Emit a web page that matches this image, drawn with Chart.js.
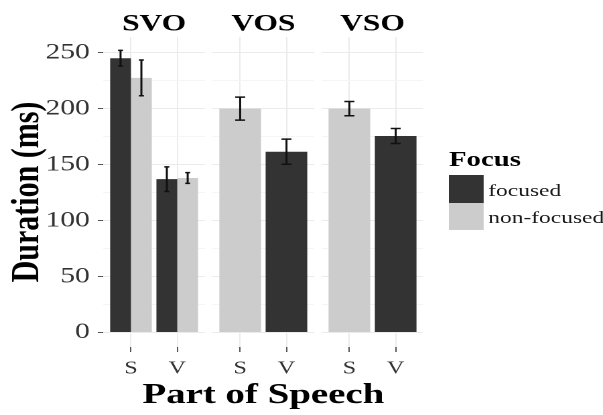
<!DOCTYPE html>
<html>
<head>
<meta charset="utf-8">
<script src="https://cdn.jsdelivr.net/npm/chart.js@4.4.1/dist/chart.umd.min.js"></script>
<style>
html,body{margin:0;padding:0;background:#fff;overflow:hidden;width:603px;height:415px;}
#wrap{position:absolute;left:0;top:0;width:450px;height:415px;transform:scaleX(1.34);transform-origin:0 0;}
#wrap canvas{position:absolute;top:0;left:0;}
.lg{position:absolute;font-family:"Liberation Serif","DejaVu Serif",serif;line-height:1;white-space:nowrap;color:#1a1a1a;}
.key{position:absolute;}
</style>
</head>
<body>
<div id="wrap">
  <canvas id="c1" width="153" height="415" style="width:153px;height:415px"></canvas>
  <canvas id="c2" width="393" height="415" style="width:393px;height:415px"></canvas>
  <canvas id="c3" width="316" height="415" style="width:316px;height:415px"></canvas>
  <div id="legend"></div>
</div>
<script>
// ---- data ----
const categories = ['S', 'V'];
const panelNames = ['SVO', 'VOS', 'VSO'];
const seriesNames = ['focused', 'non-focused'];
const seriesColors = ['#333333', '#cccccc'];
const yTicks = [0, 25, 50, 75, 100, 125, 150, 175, 200, 225, 250];
const yLabelStep = 50;

const svoFocused = [245, 137];
const svoNonFocused = [227.5, 138];
const vosFocused = [null, 161.5];
const vosNonFocused = [200, null];
const vsoFocused = [null, 175.5];
const vsoNonFocused = [200, null];

const svoFocusedErr = [7, 11];
const svoNonFocusedErr = [16, 4.8];
const vosFocusedErr = [null, 11.2];
const vosNonFocusedErr = [10.3, null];
const vsoFocusedErr = [null, 6.7];
const vsoNonFocusedErr = [6.4, null];

const yTitle = 'Duration (ms)';
const xTitle = 'Part of Speech';
const legendTitle = 'Focus';

// ---- setup ----
Chart.defaults.font.family = '"Liberation Serif", "DejaVu Serif", serif';
Chart.defaults.color = '#333';

const errorBarPlugin = {
  id: 'errorBars',
  afterDatasetsDraw(chart) {
    const ctx = chart.ctx, ys = chart.scales.y;
    ctx.save();
    ctx.strokeStyle = '#111';
    ctx.lineWidth = 1.5;
    chart.data.datasets.forEach((ds, i) => {
      const meta = chart.getDatasetMeta(i);
      meta.data.forEach((bar, j) => {
        const pt = ds.data[j];
        const e = ds.errorValues[j];
        if (pt.y == null || e == null) return;
        const yt = ys.getPixelForValue(pt.y + e);
        const yb = ys.getPixelForValue(pt.y - e);
        const hw = bar.width * 0.12;
        ctx.beginPath();
        ctx.moveTo(bar.x, yt); ctx.lineTo(bar.x, yb);
        ctx.moveTo(bar.x - hw, yt); ctx.lineTo(bar.x + hw, yt);
        ctx.moveTo(bar.x - hw, yb); ctx.lineTo(bar.x + hw, yb);
        ctx.stroke();
      });
    });
    ctx.restore();
  }
};

function toXY(vals) {
  return vals.map((v, i) => ({ x: i + 1, y: v }));
}

function makePanel(id, title, fVals, nVals, fErr, nErr, cfg) {
  const gridColor = c => (c.tick && c.tick.value % yLabelStep === 0) ? '#ebebeb' : '#f5f5f5';
  const scales = {
    x: {
      type: 'linear',
      min: 0.4, max: 2.6,
      offset: false,
      afterBuildTicks: s => { s.ticks = categories.map((c, i) => ({ value: i + 1 })); },
      afterFit: s => { s.height = 34; },
      ticks: {
        callback: v => categories[v - 1],
        font: { size: 18 },
        color: '#333',
        padding: 6,
        autoSkip: false,
        maxRotation: 0
      },
      grid: { offset: false, color: '#ebebeb', lineWidth: 1, drawTicks: true, tickLength: 5, tickColor: '#555', tickWidth: 1 },
      border: { display: false }
    },
    y: {
      type: 'linear',
      position: 'left',
      min: -13, max: 264,
      afterBuildTicks: s => { s.ticks = yTicks.map(v => ({ value: v })); },
      afterFit: s => { s.width = cfg.yWidth; },
      ticks: {
        display: cfg.yLabels,
        callback: v => (v % yLabelStep === 0 ? String(v) : ''),
        font: { size: 22 },
        color: '#333',
        padding: 6,
        autoSkip: false
      },
      grid: {
        color: gridColor,
        lineWidth: 1,
        drawTicks: cfg.yLabels,
        tickLength: 4,
        tickColor: c => (c.tick && c.tick.value % yLabelStep === 0) ? '#555' : 'rgba(0,0,0,0)',
        tickWidth: 1
      },
      border: { display: false },
      title: {
        display: cfg.yLabels,
        text: yTitle,
        color: '#000',
        font: { size: 30, weight: 'bold', lineHeight: 1 },
        padding: { top: 5.5, bottom: 0 }
      }
    }
  };
  if (cfg.rightWidth) {
    scales.yR = {
      type: 'linear',
      position: 'right',
      display: true,
      afterFit: s => { s.width = cfg.rightWidth; },
      ticks: { display: false },
      grid: { display: false, drawTicks: false },
      border: { display: false }
    };
  }
  return new Chart(document.getElementById(id), {
    type: 'bar',
    data: {
      datasets: [
        { label: seriesNames[0], data: toXY(fVals), errorValues: fErr, backgroundColor: seriesColors[0], borderWidth: 0 },
        { label: seriesNames[1], data: toXY(nVals), errorValues: nErr, backgroundColor: seriesColors[1], borderWidth: 0 }
      ]
    },
    options: {
      responsive: false,
      animation: false,
      devicePixelRatio: 2,
      events: [],
      skipNull: true,
      categoryPercentage: 0.9,
      barPercentage: 1.0,
      layout: { padding: { top: 0, left: 0, right: 0, bottom: cfg.bottomPad } },
      scales,
      plugins: {
        legend: { display: false },
        tooltip: { enabled: false },
        title: {
          display: true,
          text: title,
          fullSize: false,
          color: '#000',
          font: { size: 23.5, weight: 'bold', lineHeight: 1 },
          padding: { top: 12.75, bottom: 0.75 }
        },
        subtitle: {
          display: !!cfg.subtitle,
          text: cfg.subtitle || '',
          position: 'bottom',
          fullSize: true,
          color: '#000',
          font: { size: 29, weight: 'bold', lineHeight: 1 },
          padding: { top: 0, bottom: 5 }
        }
      }
    },
    plugins: [errorBarPlugin]
  });
}

makePanel('c1', panelNames[0], svoFocused, svoNonFocused, svoFocusedErr, svoNonFocusedErr,
  { yWidth: 77, yLabels: true, bottomPad: 34 });
makePanel('c2', panelNames[1], vosFocused, vosNonFocused, vosFocusedErr, vosNonFocusedErr,
  { yWidth: 158.5, yLabels: false, bottomPad: 0, rightWidth: 158.5, subtitle: xTitle });
makePanel('c3', panelNames[2], vsoFocused, vsoNonFocused, vsoFocusedErr, vsoNonFocusedErr,
  { yWidth: 240, yLabels: false, bottomPad: 34 });

// ---- legend ----
const lg = document.getElementById('legend');
const t = document.createElement('div');
t.className = 'lg';
t.textContent = legendTitle;
t.style.cssText = 'left:335px;top:148.5px;font-size:21.5px;font-weight:bold;color:#000;';
lg.appendChild(t);
const keyTops = [175, 202.7];
const keyH = [27.7, 27.3];
const labelTops = [181.8, 209.1];
seriesNames.forEach((name, i) => {
  const k = document.createElement('div');
  k.className = 'key';
  k.style.cssText = `left:335.3px;top:${keyTops[i]}px;width:25.4px;height:${keyH[i]}px;background:${seriesColors[i]};`;
  lg.appendChild(k);
  const l = document.createElement('div');
  l.className = 'lg';
  l.textContent = name;
  l.style.cssText = `left:364.4px;top:${labelTops[i]}px;font-size:17.5px;`;
  lg.appendChild(l);
});
</script>
</body>
</html>
